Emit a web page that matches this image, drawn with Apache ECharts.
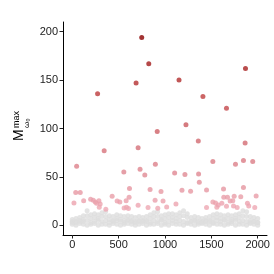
<!DOCTYPE html>
<html>
<head>
<meta charset="utf-8">
<script src="https://cdn.jsdelivr.net/npm/echarts@6/dist/echarts.min.js"></script>
<style>html,body{margin:0;padding:0;background:#fff}#c{width:274px;height:274px}</style>
</head>
<body>
<div id="c"></div>
<script>
// Tick labels
var xTickValues = [0, 500, 1000, 1500, 2000];
var xTickLabels = ['0', '500', '1000', '1500', '2000'];
var yTickValues = [0, 50, 100, 150, 200];
var yTickLabels = ['0', '50', '100', '150', '200'];

// Background (non-significant) cloud: positions and values
var greyX = [0,40,80,120,160,200,240,280,320,360,400,440,480,520,560,600,640,680,720,760,800,840,880,920,960,1000,1040,1080,1120,1160,1200,1240,1280,1320,1360,1400,1440,1480,1520,1560,1600,1640,1680,1720,1760,1800,1840,1880,1920,1960,2000];
var greyLow = [1,0,2,1,0,1,2,0,1,1,0,2,1,0,1,2,1,0,1,2,0,1,1,2,0,1,0,2,1,1,0,2,1,0,1,2,1,0,2,1,1,0,1,2,0,1,1,0,2,1,0];
var greyLow2 = [4,3,5,4,5,3,4,5,4,5,3,4,5,4,3,5,4,3,4,5,4,3,5,4,5,3,4,5,4,5,4,3,4,5,3,4,5,4,3,5,4,5,3,4,5,4,5,4,3,4,3];
var greyMid = [3,4,4,6,10,7,8,7,9,9,6,5,7,6,5,6,5,4,5,4,5,7,9,9,6,7,8,8,7,9,10,8,4,5,4,3,4,5,7,8,7,6,7,6,7,8,10,9,5,4,3];
var greyHigh = [6,7,8,10,15,11,12,11,13,14,10,9,11,10,9,10,9,8,9,8,9,11,13,14,10,11,12,12,11,13,15,12,8,9,8,7,8,9,11,12,11,10,11,10,11,12,15,14,9,8,7];

// Highlighted points (x, value)
var hiX = [749,825,1868,1151,688,273,1409,1663,1226,916,1359,1864,710,344,1516,1846,1946,1760,896,47,731,556,1104,1362,1215,782,1370,1846,617,1631,839,1448,1183,1276,957,37,86,430,613,1983,1746,1817,1634,1674,198,226,893,287,123,581,979,484,1703,1731,513,248,1516,1545,18,1613,1889,1118,710,1574,1903,1739,1663,1018,291,585,1559,1448,559,817,1778,1968,922,606,362,301,262];
var hiY = [194,167,162,150,147,136,133,121,104,97,87,85,80,77,66,67,66,63,63,61,58,55,54,53,52.5,52,44.5,39,38,37.5,37,36.5,36.3,35.3,35,34,34,30,29,30.4,30,29.4,29,29,27,26,26,25.5,25.5,25.5,25,25,25,25.5,24,24,24,23,23,22.8,22.8,22,20.7,21,20,20,19.7,19,18.7,18.7,18.7,18.5,18,18.3,18.3,18.3,17.6,17.3,16.6,22,22.8];

function pairs(xs, ys){ return xs.map(function(x,i){ return [x, ys[i]]; }); }
var greyData = pairs(greyX, greyLow).concat(pairs(greyX, greyLow2), pairs(greyX, greyMid), pairs(greyX, greyHigh));
var hiData = pairs(hiX, hiY).sort(function(a,b){ return a[1]-b[1]; });

var FONT = 'Liberation Sans';
var chart = echarts.init(document.getElementById('c'), null, {renderer:'canvas'});
chart.setOption({
  animation: false,
  backgroundColor: '#fff',
  grid: {left: 63, right: 7, top: 22, bottom: 39, containLabel: false},
  xAxis: {
    type: 'value', min: -100, max: 2100,
    splitLine: {show: false},
    axisLine: {onZero: false, lineStyle: {color: '#000', width: 1}},
    axisTick: {length: 3.5, lineStyle: {color: '#222'}, customValues: xTickValues},
    axisLabel: {customValues: xTickValues, margin: 4, color: '#222', fontSize: 11, fontFamily: FONT,
      formatter: function(v){ var i = xTickValues.indexOf(v); return i >= 0 ? xTickLabels[i] : ''; }}
  },
  yAxis: {
    type: 'value', min: -10, max: 210,
    splitLine: {show: false},
    axisLine: {onZero: false, lineStyle: {color: '#000', width: 1}},
    axisTick: {length: 3.5, lineStyle: {color: '#222'}, customValues: yTickValues},
    axisLabel: {customValues: yTickValues, margin: 5, color: '#222', fontSize: 11, fontFamily: FONT,
      formatter: function(v){ var i = yTickValues.indexOf(v); return i >= 0 ? yTickLabels[i] : ''; }}
  },
  visualMap: {
    show: false, type: 'continuous', seriesIndex: 1, dimension: 1,
    min: 17, max: 194,
    inRange: {color: ['#EEA8B4', '#D7747D', '#BE3C3D', '#8B0000']}
  },
  series: [
    {type: 'scatter', symbolSize: 5, data: greyData, itemStyle: {color: '#DDDDDD'}, silent: true},
    {type: 'scatter', symbolSize: 5, data: hiData, silent: true}
  ],
  graphic: [{
    type: 'group', x: 24, y: 141, rotation: Math.PI/2,
    children: [
      {type: 'text', x: 0, y: -5, style: {text: 'M', font: '14px ' + FONT, fill: '#000', verticalAlign: 'middle', align: 'left'}},
      {type: 'text', x: 13, y: -7.5, style: {text: 'max', font: '9px ' + FONT, fill: '#000', verticalAlign: 'middle', align: 'left'}},
      {type: 'text', x: 13, y: 3, style: {text: 'ω₀', font: '8px ' + FONT, fill: '#000', verticalAlign: 'middle', align: 'left'}}
    ]
  }]
});
</script>
</body>
</html>
